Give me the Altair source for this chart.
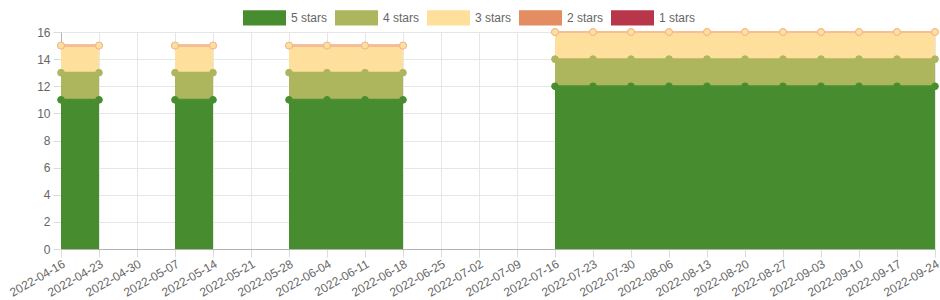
import json
import altair as alt
import pandas as pd

dates = ["2022-04-16", "2022-04-23", "2022-04-30", "2022-05-07", "2022-05-14", "2022-05-21",
         "2022-05-28", "2022-06-04", "2022-06-11", "2022-06-18", "2022-06-25", "2022-07-02",
         "2022-07-09", "2022-07-16", "2022-07-23", "2022-07-30", "2022-08-06", "2022-08-13",
         "2022-08-20", "2022-08-27", "2022-09-03", "2022-09-10", "2022-09-17", "2022-09-24"]

N = None
five_stars = [11, 11, N, 11, 11, N, 11, 11, 11, 11, N, N, N,
              12, 12, 12, 12, 12, 12, 12, 12, 12, 12, 12]
four_stars = [2, 2, N, 2, 2, N, 2, 2, 2, 2, N, N, N,
              2, 2, 2, 2, 2, 2, 2, 2, 2, 2, 2]
three_stars = [2, 2, N, 2, 2, N, 2, 2, 2, 2, N, N, N,
               2, 2, 2, 2, 2, 2, 2, 2, 2, 2, 2]
two_stars = [0, 0, N, 0, 0, N, 0, 0, 0, 0, N, N, N,
             0, 0, 0, 0, 0, 0, 0, 0, 0, 0, 0]
one_stars = [0, 0, N, 0, 0, N, 0, 0, 0, 0, N, N, N,
             0, 0, 0, 0, 0, 0, 0, 0, 0, 0, 0]

series_names = ["5 stars", "4 stars", "3 stars", "2 stars", "1 stars"]
series_values = [five_stars, four_stars, three_stars, two_stars, one_stars]
fill_colors = ["#478d30", "#adb55d", "#fedf9b", "#e48c62", "#b8364a"]
border_colors = ["#4a8f33", "#aeb660", "#f5bf93", "#f2b08a", "#e9a4a4"]

rows = []
# draw order: 1 stars first, 5 stars last
for rank in reversed(range(len(series_names))):
    vals = series_values[rank]
    seg = 0
    prev = None
    for i, v in enumerate(vals):
        if v is None:
            prev = None
            continue
        if prev is None:
            seg += 1
        prev = v
        rows.append({"idx": i, "date": dates[i], "series": series_names[rank],
                     "rank": rank, "value": v, "seg": seg})
df = pd.DataFrame(rows)

font = "Liberation Sans"
label_expr = json.dumps(dates) + "[datum.value]"

x = alt.X("idx:Q", scale=alt.Scale(domain=[0, len(dates) - 1], nice=False, zero=False),
          axis=alt.Axis(values=list(range(len(dates))), labelExpr=label_expr, title=None,
                        labelAngle=-30, labelAlign="right", labelBaseline="top",
                        labelOverlap=False, labelFlush=False, tickSize=8, labelPadding=1,
                        grid=True))
y_top = alt.Y("y1:Q", scale=alt.Scale(domain=[0, 16], nice=False),
              axis=alt.Axis(values=list(range(0, 17, 2)), title=None, tickSize=8,
                            labelPadding=3, grid=True))
color = alt.Color("series:N",
                  scale=alt.Scale(domain=series_names, range=fill_colors),
                  legend=alt.Legend(title=None, orient="none", direction="horizontal",
                                    legendX=182, legendY=-36,
                                    symbolType="M-1,-0.36L1,-0.36L1,0.36L-1,0.36Z",
                                    symbolSize=1849, symbolStrokeWidth=0,
                                    symbolOpacity=1, labelOffset=5, columnPadding=7,
                                    labelFontSize=12, labelColor="#666666", labelFont=font))
stroke = alt.Stroke("series:N", scale=alt.Scale(domain=series_names, range=border_colors),
                    legend=None)

base = alt.Chart(df).transform_stack(
    stack="value", groupby=["idx"], as_=["y0", "y1"],
    sort=[alt.SortField("rank", order="ascending")]
)

area = base.mark_area(opacity=1).encode(
    x=x, y=y_top, y2="y0:Q", color=color, detail="seg:N")
line = base.mark_line(strokeWidth=2).encode(
    x=x, y=y_top, stroke=stroke, detail="seg:N")
points = base.mark_point(filled=True, size=45, strokeWidth=1, opacity=1).encode(
    x=x, y=y_top, color=color, stroke=stroke)

chart = alt.layer(area, line, points).properties(
    width=874, height=217,
    autosize=alt.AutoSizeParams(type="none"),
    padding={"left": 61, "top": 32, "right": 5, "bottom": 51},
).configure_view(stroke=None).configure_axis(
    gridColor="#e6e6e6", tickColor="#dcdcdc", domainColor="#b3b3b3",
    labelColor="#666666", labelFont=font, labelFontSize=12,
)

chart.save("out.html", embed_options={"renderer": "svg", "actions": False})
